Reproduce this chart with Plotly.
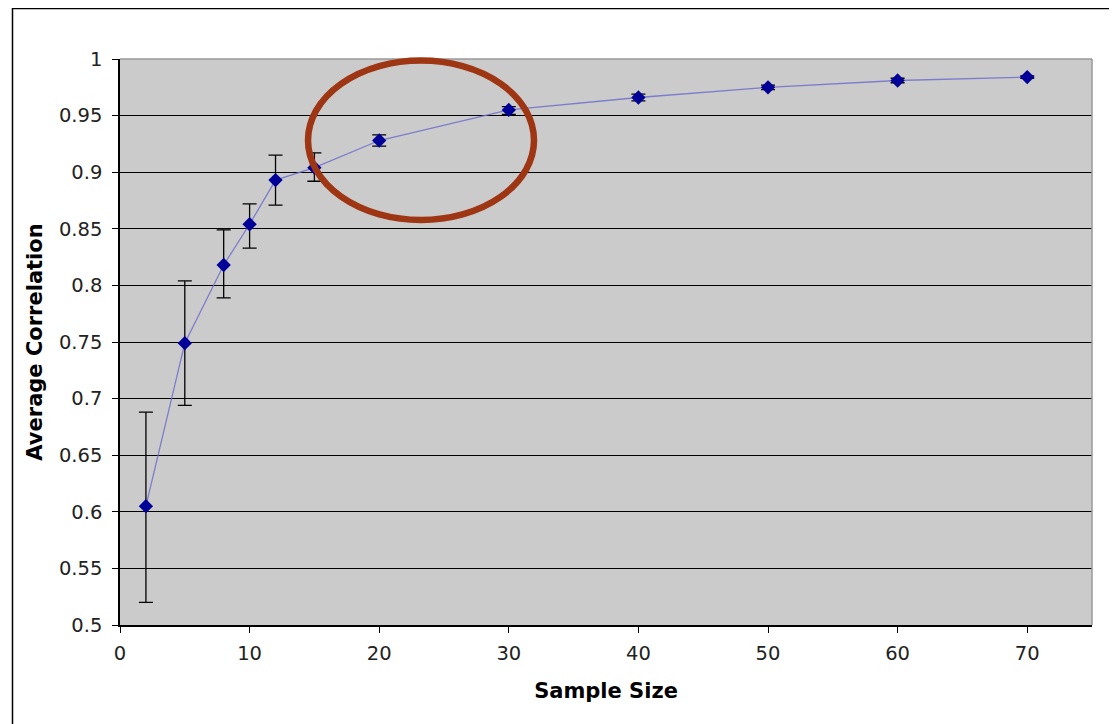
import plotly.graph_objects as go

sample_size = [2, 5, 8, 10, 12, 15, 20, 30, 40, 50, 60, 70]
avg_corr = [0.605, 0.749, 0.818, 0.854, 0.893, 0.904, 0.928, 0.955, 0.966, 0.975, 0.981, 0.984]
err_plus = [0.083, 0.055, 0.031, 0.018, 0.022, 0.013, 0.005, 0.003, 0.003, 0.002, 0.002, 0.001]
err_minus = [0.085, 0.055, 0.029, 0.021, 0.022, 0.012, 0.005, 0.004, 0.003, 0.002, 0.002, 0.001]
y_ticks = [0.5, 0.55, 0.6, 0.65, 0.7, 0.75, 0.8, 0.85, 0.9, 0.95, 1.0]
y_tick_labels = ["0.5", "0.55", "0.6", "0.65", "0.7", "0.75", "0.8", "0.85", "0.9", "0.95", "1"]
x_ticks = [0, 10, 20, 30, 40, 50, 60, 70]

OFF = 8  # default page body margin
W, H = 1117 - OFF, 724 - OFF
L, R, T = 120 - OFF, 25, 59 - OFF
PW, PH = W - L - R, 566
B = H - T - PH

def px(xp):
    # page pixel x -> paper fraction
    return (xp - OFF - L) / PW

def py(yp):
    # page pixel y -> paper fraction
    return 1 - (yp - OFF - T) / PH

fig = go.Figure()
fig.add_trace(go.Scatter(
    x=sample_size, y=avg_corr, mode="lines+markers",
    line=dict(color="rgba(110,110,205,0.85)", width=1.3),
    marker=dict(symbol="diamond", size=11, color="#000099"),
    error_y=dict(type="data", symmetric=False, array=err_plus, arrayminus=err_minus,
                 color="black", thickness=1.3, width=7),
    showlegend=False,
))

font_family = "DejaVu Sans, Verdana, sans-serif"
fig.update_layout(
    width=W, height=H,
    margin=dict(l=L, r=R, t=T, b=B),
    paper_bgcolor="white", plot_bgcolor="#CBCBCB",
    font=dict(family=font_family, size=19.5, color="#222"),
    xaxis=dict(range=[0, 75], tickvals=x_ticks, ticks="outside", ticklen=6, tickcolor="black",
               ticklabelstandoff=4,
               showgrid=False, zeroline=False, showline=True, linecolor="black", linewidth=1.5,
               title=dict(text="<b>Sample Size</b>", font=dict(size=21, color="black"), standoff=19),
               tickfont=dict(size=19.5, color="#222")),
    yaxis=dict(range=[0.5, 1.0], tickvals=y_ticks, ticktext=y_tick_labels, ticks="outside",
               ticklen=6, tickcolor="black", showgrid=True, gridcolor="black", gridwidth=1.3,
               ticklabelstandoff=6,
               zeroline=False, showline=True, linecolor="black", linewidth=1.5,
               title=dict(text="<b>Average Correlation</b>", font=dict(size=21, color="black"), standoff=11),
               tickfont=dict(size=19.5, color="#222")),
)

# plot border (gray top/right)
fig.add_shape(type="line", xref="paper", yref="paper", x0=0, x1=1, y0=1, y1=1,
              line=dict(color="#999999", width=1.5))
fig.add_shape(type="line", xref="paper", yref="paper", x0=1, x1=1, y0=0, y1=1,
              line=dict(color="#999999", width=1.5))
# outer frame
fig.add_shape(type="rect", xref="paper", yref="paper", x0=px(12.5), x1=px(1135), y0=py(745), y1=py(8.5),
              line=dict(color="black", width=1.5), fillcolor="rgba(0,0,0,0)", layer="below")
# red ellipse highlight
fig.add_shape(type="circle", xref="paper", yref="paper", x0=px(308), x1=px(534), y0=py(220), y1=py(60.5),
              line=dict(color="#9E3513", width=6.5))

fig.write_html("out.html")
